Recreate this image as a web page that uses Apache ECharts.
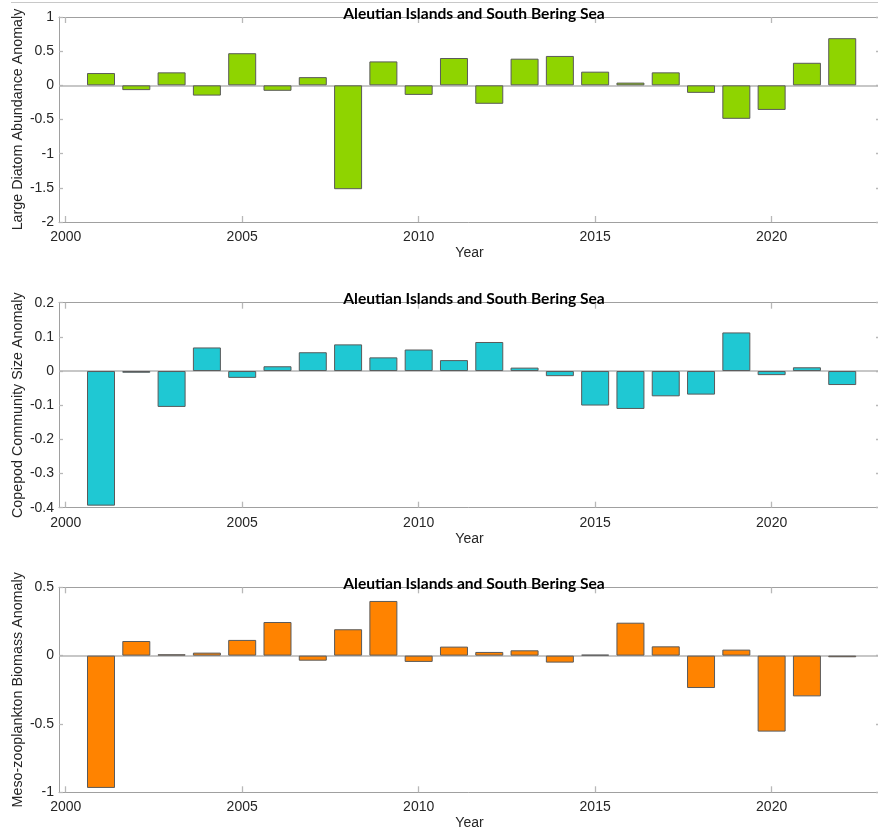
<!DOCTYPE html>
<html>
<head>
<meta charset="utf-8">
<script src="https://cdn.jsdelivr.net/npm/echarts@6/dist/echarts.min.js"></script>
<style>
html,body{margin:0;padding:0;background:#fff;}
#chart{width:878px;height:834px;}
</style>
</head>
<body>
<div id="chart"></div>
<script>
const years = [2001,2002,2003,2004,2005,2006,2007,2008,2009,2010,2011,2012,2013,2014,2015,2016,2017,2018,2019,2020,2021,2022];
const diatom = [0.18,-0.07,0.19,-0.15,0.47,-0.08,0.12,-1.52,0.35,-0.14,0.40,-0.27,0.39,0.43,0.20,0.04,0.19,-0.11,-0.49,-0.36,0.33,0.69];
const copepod = [-0.394,-0.005,-0.105,0.069,-0.02,0.014,0.055,0.078,0.04,0.063,0.032,0.085,0.01,-0.015,-0.101,-0.111,-0.074,-0.069,0.113,-0.012,0.011,-0.041];
const mesozoo = [-0.968,0.107,0.01,0.022,0.115,0.246,-0.037,0.193,0.4,-0.046,0.066,0.027,0.039,-0.051,0.007,0.241,0.068,-0.237,0.044,-0.556,-0.298,-0.012];
const xTickValues = [2000,2005,2010,2015,2020];
const panelTitle = 'Aleutian Islands and South Bering Sea';
const yNames = ['Large Diatom Abundance Anomaly','Copepod Community Size Anomaly','Meso-zooplankton Biomass Anomaly'];
const yRanges = [[-2,1,0.5],[-0.4,0.2,0.1],[-1,0.5,0.5]];
const xLabel = 'Year';
const colors = ['#8fd400','#1fc8d3','#ff8300'];
const panelData = [diatom, copepod, mesozoo];

const tops = [17, 302.7, 587.3];
const H = 205;
const LEFT = 59, RIGHT = -2;
const XMIN = 1999.81, XMAX = 2023.07;
const axisColor = '#a0a0a0';
const tickColor = '#b8b8b8';
const labelColor = '#262626';
const FONT = '"Liberation Sans", Arial, Helvetica, sans-serif';

const grid = [], xAxis = [], yAxis = [], series = [], graphic = [];
graphic.push({type:'line', shape:{x1:11,y1:2.5,x2:878,y2:2.5}, style:{stroke:'#c8c8c8', lineWidth:1}, z:10});

for (let p = 0; p < 3; p++) {
  grid.push({left: LEFT, right: RIGHT, top: tops[p], height: H, containLabel: false, outerBoundsMode: 'none'});
  const [ymin, ymax, yint] = yRanges[p];
  xAxis.push({
    type:'value', gridIndex:p, position:'bottom', min:XMIN, max:XMAX,
    axisLine:{show:true, onZero:false, lineStyle:{color:axisColor, width:1}},
    axisTick:{show:true, inside:true, length:6, customValues:xTickValues, lineStyle:{color:tickColor, width:1.3}},
    axisLabel:{show:true, customValues:xTickValues, color:labelColor, fontSize:14, fontFamily:FONT, margin:8, formatter: v => String(Math.round(v))},
    splitLine:{show:false},
    name:xLabel, nameLocation:'middle', nameGap:24, nameMoveOverlap:false,
    nameTextStyle:{color:labelColor, fontSize:14, fontFamily:FONT}
  });
  xAxis.push({
    type:'value', gridIndex:p, position:'top', min:XMIN, max:XMAX,
    axisLine:{show:true, onZero:false, lineStyle:{color:axisColor, width:1}},
    axisTick:{show:true, inside:true, length:6, customValues:xTickValues, lineStyle:{color:tickColor, width:1.3}},
    axisLabel:{show:false}, splitLine:{show:false}
  });
  yAxis.push({
    type:'value', gridIndex:p, position:'left', min:ymin, max:ymax, interval:yint,
    axisLine:{show:true, onZero:false, lineStyle:{color:axisColor, width:1}},
    axisTick:{show:true, inside:true, length:4, lineStyle:{color:tickColor, width:1.3}},
    axisLabel:{color:labelColor, fontSize:14, fontFamily:FONT, margin:5,
      formatter: v => String(parseFloat(v.toFixed(4)))},
    splitLine:{show:false},
    name:yNames[p], nameLocation:'middle', nameGap:34, nameMoveOverlap:false,
    nameTextStyle:{color:labelColor, fontSize:14.3, fontFamily:FONT}
  });
  yAxis.push({
    type:'value', gridIndex:p, position:'right', min:ymin, max:ymax, interval:yint,
    axisLine:{show:true, onZero:false, lineStyle:{color:axisColor, width:1}},
    axisTick:{show:true, inside:true, length:4, lineStyle:{color:tickColor, width:1.3}},
    axisLabel:{show:false}, splitLine:{show:false}
  });
  series.push({
    type:'bar', xAxisIndex:2*p, yAxisIndex:2*p,
    data: years.map((y,i)=>[y, panelData[p][i]]),
    barWidth: 28,
    itemStyle:{color:colors[p], borderColor:'#5a5a5a', borderWidth:1},
    emphasis:{disabled:true},
    markLine:{silent:true, symbol:'none', label:{show:false},
      lineStyle:{color:'#b4b4b4', width:1.6, type:'solid'},
      data:[{yAxis:0}], z:1},
    z:2
  });
  graphic.push({type:'text', x:474, y:tops[p]-3.5, z:20,
    style:{text:panelTitle, fill:'#000', font:'bold 15.6px Lato, "Open Sans", sans-serif', textAlign:'center', textVerticalAlign:'middle'}});
}

const chart = echarts.init(document.getElementById('chart'), null, {renderer:'canvas'});
chart.setOption({animation:false, backgroundColor:'#fff', grid, xAxis, yAxis, series, graphic});
</script>
</body>
</html>
